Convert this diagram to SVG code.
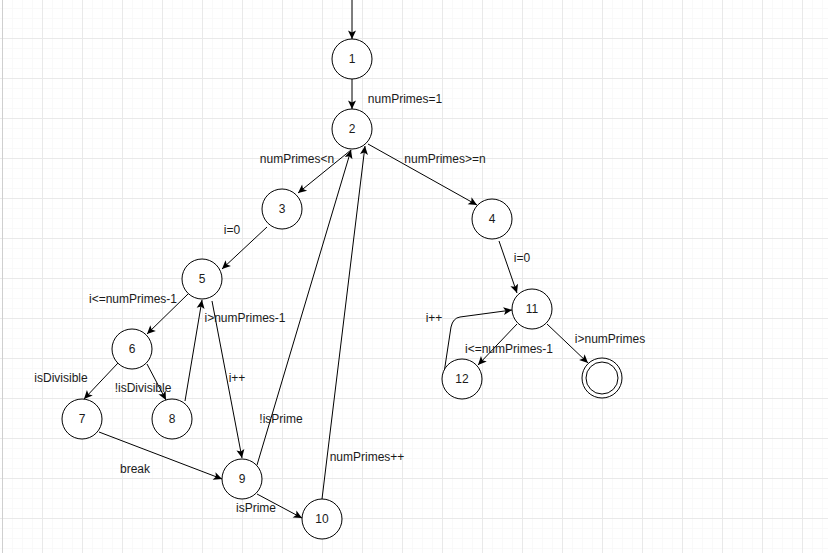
<svg xmlns="http://www.w3.org/2000/svg" width="828" height="553" viewBox="0 0 828 553">
<style>
.n circle{fill:#fff;stroke:#000;stroke-width:1}
.n text,.lbl{font-family:"Liberation Sans",Arial,sans-serif;font-size:12px;fill:#1a1a1a;text-anchor:middle}
#edges path{fill:none;stroke:#000;stroke-width:1;marker-end:url(#arr)}
</style>
<defs>
<pattern id="grid" patternUnits="userSpaceOnUse" x="2" y="-2" width="40" height="40">
<rect x="0" y="0" width="40" height="40" fill="#fff"/>
<rect x="10" y="0" width="1" height="40" fill="#f9f9f9"/>
<rect x="20" y="0" width="1" height="40" fill="#f9f9f9"/>
<rect x="30" y="0" width="1" height="40" fill="#f9f9f9"/>
<rect x="0" y="10" width="40" height="1" fill="#f9f9f9"/>
<rect x="0" y="20" width="40" height="1" fill="#f9f9f9"/>
<rect x="0" y="30" width="40" height="1" fill="#f9f9f9"/>
<rect x="0" y="0" width="1" height="40" fill="#e9e9e9"/>
<rect x="0" y="0" width="40" height="1" fill="#e9e9e9"/>
</pattern>
<marker id="arr" viewBox="-10 -5 11 10" refX="0" refY="0" markerWidth="11" markerHeight="10" markerUnits="userSpaceOnUse" orient="auto">
<path d="M0,0 L-8.5,-4 L-6.5,0 L-8.5,4 Z" fill="#000"/>
</marker>
</defs>
<rect x="0" y="0" width="828" height="553" fill="url(#grid)"/>
<rect x="2" y="0" width="1" height="553" fill="#cfcfcf"/>

<g id="edges">
<path d="M352,0 L352,39"/>
<path d="M352,79 L352,109"/>
<path d="M351,150 L298,193"/>
<path d="M368,144 L477,205"/>
<path d="M267,227 L222,269"/>
<path d="M188,294 L147,334"/>
<path d="M118,363 L84,399"/>
<path d="M147,364 L166,400"/>
<path d="M185,401 L202,300"/>
<path d="M212,301 L242,458"/>
<path d="M99,432 L222,479"/>
<path d="M257,465 L351,150"/>
<path d="M322,499 L365,146"/>
<path d="M257,494 L302,518"/>
<path d="M499,241 L517,293"/>
<path d="M517,324 L478,365"/>
<path d="M547,324 L588,363"/>
<path d="M444,373 L451,327 Q453,318 460,317 L512,310"/>
</g>

<g id="labels">
<text class="lbl" x="405" y="103">numPrimes=1</text>
<text class="lbl" x="297" y="163">numPrimes&lt;n</text>
<text class="lbl" x="445" y="163">numPrimes&gt;=n</text>
<text class="lbl" x="232" y="234">i=0</text>
<text class="lbl" x="133" y="303">i&lt;=numPrimes-1</text>
<text class="lbl" x="61" y="382">isDivisible</text>
<text class="lbl" x="143" y="392">!isDivisible</text>
<text class="lbl" x="245" y="322">i&gt;numPrimes-1</text>
<text class="lbl" x="237" y="382">i++</text>
<text class="lbl" x="281" y="423">!isPrime</text>
<text class="lbl" x="135" y="473">break</text>
<text class="lbl" x="256" y="512">isPrime</text>
<text class="lbl" x="367" y="461">numPrimes++</text>
<text class="lbl" x="522" y="262">i=0</text>
<text class="lbl" x="434" y="322">i++</text>
<text class="lbl" x="509" y="353">i&lt;=numPrimes-1</text>
<text class="lbl" x="610" y="343">i&gt;numPrimes</text>
</g>

<g id="n1" class="n"><circle cx="352" cy="59" r="20"/><text x="352" y="63">1</text></g>
<g id="n2" class="n"><circle cx="352" cy="129" r="20"/><text x="352" y="133">2</text></g>
<g id="n3" class="n"><circle cx="282" cy="209" r="20"/><text x="282" y="213">3</text></g>
<g id="n4" class="n"><circle cx="492" cy="219" r="20"/><text x="492" y="223">4</text></g>
<g id="n5" class="n"><circle cx="202" cy="279" r="20"/><text x="202" y="283">5</text></g>
<g id="n6" class="n"><circle cx="132" cy="349" r="20"/><text x="132" y="353">6</text></g>
<g id="n7" class="n"><circle cx="82" cy="419" r="20"/><text x="82" y="423">7</text></g>
<g id="n8" class="n"><circle cx="172" cy="419" r="20"/><text x="172" y="423">8</text></g>
<g id="n9" class="n"><circle cx="242" cy="479" r="20"/><text x="242" y="483">9</text></g>
<g id="n10" class="n"><circle cx="322" cy="519" r="20"/><text x="322" y="523">10</text></g>
<g id="n11" class="n"><circle cx="532" cy="309" r="20"/><text x="532" y="313">11</text></g>
<g id="n12" class="n"><circle cx="462" cy="379" r="20"/><text x="462" y="383">12</text></g>
<g id="nF" class="n"><circle cx="602" cy="378" r="20"/><circle cx="602" cy="378" r="16"/></g>
</svg>
